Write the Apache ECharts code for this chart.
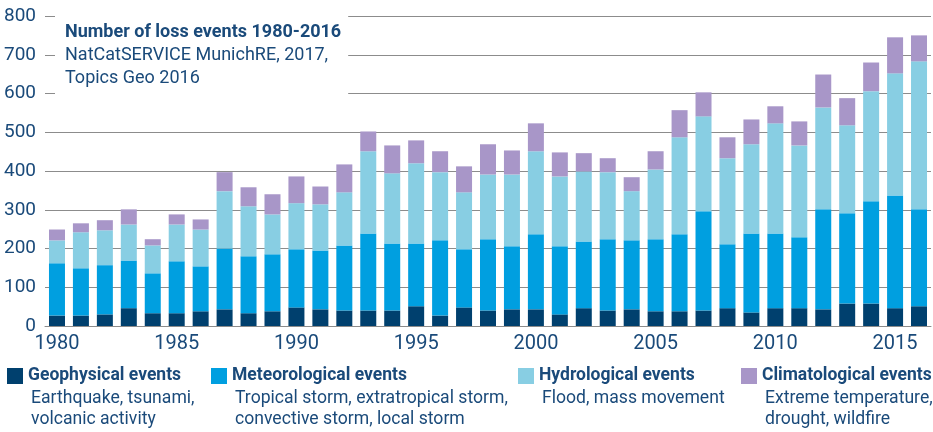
<!DOCTYPE html>
<html>
<head>
<meta charset="utf-8">
<script src="https://cdn.jsdelivr.net/npm/echarts@6/dist/echarts.min.js"></script>
<style>
  html, body { margin: 0; padding: 0; background: #fff; }
  #lossChart { width: 933px; height: 432px; }
</style>
</head>
<body>
<div id="lossChart"></div>
<script>
// data
var years = ['1980', '1981', '1982', '1983', '1984', '1985', '1986', '1987', '1988', '1989',
  '1990', '1991', '1992', '1993', '1994', '1995', '1996', '1997', '1998', '1999',
  '2000', '2001', '2002', '2003', '2004', '2005', '2006', '2007', '2008', '2009',
  '2010', '2011', '2012', '2013', '2014', '2015', '2016'];
var geophysical = [27, 27, 30, 46, 33, 33, 38, 43, 33, 38, 48, 43, 40, 40, 40, 51, 27, 48, 40, 43,
  43, 30, 46, 40, 43, 38, 38, 40, 46, 35, 46, 46, 43, 58, 58, 46, 51];
var meteorological = [135, 122, 127, 123, 103, 134, 116, 157, 147, 147, 150, 152, 168, 199, 173, 162, 194, 150, 184, 163,
  194, 176, 172, 184, 178, 186, 199, 256, 165, 204, 193, 183, 258, 233, 264, 291, 250];
var hydrological = [59, 93, 90, 93, 72, 95, 95, 148, 129, 103, 119, 119, 137, 212, 181, 207, 176, 147, 167, 185,
  214, 180, 181, 173, 127, 180, 250, 245, 222, 230, 284, 237, 263, 227, 284, 315, 382];
var climatological = [28, 23, 26, 39, 16, 26, 26, 49, 49, 52, 69, 46, 72, 51, 72, 59, 54, 67, 78, 62,
  72, 62, 47, 36, 36, 47, 70, 62, 54, 64, 44, 62, 85, 70, 74, 93, 67];

var seriesNames = ['Geophysical events', 'Meteorological events', 'Hydrological events', 'Climatological events'];
var seriesNotes = [
  'Earthquake, tsunami,\nvolcanic activity',
  'Tropical storm, extratropical storm,\nconvective storm, local storm',
  'Flood, mass movement',
  'Extreme temperature,\ndrought, wildfire'
];
var seriesColors = ['#00406e', '#009fe0', '#88cee3', '#a896c8'];
var legendLeft = [7, 211, 518, 741];

var textColor = '#1a4a7a';
var font = 'Roboto, "Noto Sans", sans-serif';

var chart = echarts.init(document.getElementById('lossChart'));

var values = [geophysical, meteorological, hydrological, climatological];
var series = [];
var legends = [];
var notes = [];
seriesNames.forEach(function (name, i) {
  series.push({
    name: name,
    type: 'bar',
    stack: 'events',
    barWidth: 16,
    itemStyle: { color: seriesColors[i] },
    data: values[i]
  });
  legends.push({
    data: [name],
    left: legendLeft[i],
    top: 367,
    padding: 0,
    icon: 'rect',
    itemWidth: 16,
    itemHeight: 16,
    selectedMode: false,
    textStyle: {
      fontFamily: font,
      fontWeight: 'bold',
      fontSize: 17.5,
      lineHeight: 16,
      color: textColor
    }
  });
  notes.push({
    type: 'text',
    left: legendLeft[i] + 24,
    top: 388,
    style: {
      text: seriesNotes[i],
      font: '17.6px ' + font,
      lineHeight: 21,
      fill: textColor
    }
  });
});

chart.setOption({
  animation: false,
  title: {
    text: 'Number of loss events 1980-2016',
    subtext: 'NatCatSERVICE MunichRE, 2017,\nTopics Geo 2016',
    left: 55,
    top: 16,
    padding: [5, 7, 5, 10],
    itemGap: 0,
    backgroundColor: '#fff',
    textStyle: {
      fontFamily: font,
      fontWeight: 'bold',
      fontSize: 18,
      lineHeight: 23,
      color: textColor
    },
    subtextStyle: {
      fontFamily: font,
      fontSize: 18,
      lineHeight: 23,
      color: textColor
    }
  },
  legend: legends,
  grid: {
    left: 45,
    right: 2,
    top: 16,
    bottom: 106
  },
  xAxis: {
    type: 'category',
    data: years,
    axisTick: { show: false },
    axisLine: { lineStyle: { color: '#8c8c8c', width: 1 } },
    axisLabel: {
      interval: 4,
      margin: 8,
      fontFamily: font,
      fontSize: 20,
      color: textColor
    }
  },
  yAxis: {
    type: 'value',
    min: 0,
    max: 800,
    interval: 100,
    axisLine: { show: false },
    axisTick: { show: false },
    splitLine: { lineStyle: { color: '#8c8c8c', width: 1 } },
    axisLabel: {
      margin: 9,
      fontFamily: font,
      fontSize: 19,
      color: textColor
    }
  },
  graphic: notes,
  series: series
});
</script>
</body>
</html>
